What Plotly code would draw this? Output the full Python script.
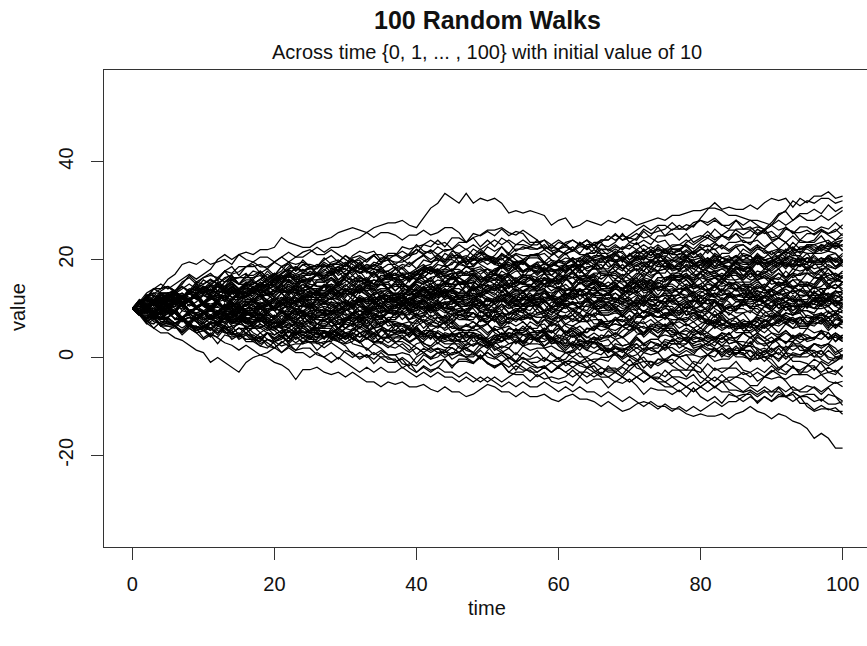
import plotly.graph_objects as go

# ---- data -------------------------------------------------------------
start_value = 10
n_steps = 100
x_ticks = [0, 20, 40, 60, 80, 100]
y_ticks = [-20, 0, 20, 40]

# step codes.  symbols: + +1, - -1, 0 zero, p +0.5, m -0.5, P +2, M -2
# digits 1..9 -> -1.8 ... +1.8 in steps of 0.45 (5 = no change)
step_size = {'+': 1.0, '-': -1.0, '0': 0.0, 'p': 0.5, 'm': -0.5, 'P': 2.0, 'M': -2.0,
             '1': -1.8, '2': -1.35, '3': -0.9, '4': -0.45, '5': 0.0,
             '6': 0.45, '7': 0.9, '8': 1.35, '9': 1.8}

# outer walks (top / bottom of the bundle), 100 steps each in groups of 10
edge_walk_steps = [
    "++++P+Ppm+ -pp-Ppm+0p P-mm0+pp+p pmm+pp0p-m PP+P--PM+m p-MpmpmmM+ pMp+mm+m+m -pppm+0pp0 p0m-0mm0mm -p-0p-+--p",
    "++-+0+++-+ +-++p++-0+ +-+0++-+0p +p+-+0m-+0 +-p+0-M+p+ 0p-m+--M+- -+-0+--+-+ ++-+-+0+-+ +-++0-+-++ P+P-+m+0-p",
    "++-+0+-+-+ +-+-+0++-+ -+-+0+-++- ++-+-+0+-+ +-+-0-+-+- ++-+-+0+-+ +-++-+0+-+ ++-+0-+-++ -+-0+-+--+ +-++-0+-++",
    "++P+-+++-+ +P+-+-m+0- ++-+p-0+-- --+-0-+--+ +-+-+0-+-+ --+-+--0+- +-+0+-+-+- -+--+0-+-+ +-+-0-+-+- -+-+--0+-+",
    "-M--0-m--m M+---P+pp+ ++-+0+-+-+ -+-+-0+-++ --+-+-0+-- ++-+0+-+-+ -+--+-0+-+ +-+-+0-+-+ --+-0+-+-- +-+-+0+-+-",
    "-+--0--+-M +--m-+--m- m-MP0p-mp- +--0-+mp-0 p-m+-0-p++ m-0-+-0p-m +p-0m-+--p +pm-+-0-mp m0p-+p+-m- +m-m-M+-M0",
    "-+--+0-+-- +-+-0+--+- -+--+-+0+- --+-0-+--+ -+-0+--+-+ --+-+--0+- -+-0-+--+- +-+--0-+-+ -+-0--+-+- +0-+M-p0m0",
    "--+-0-+-+- -+--+-+0-- +-+--0-+-- -+-+--0+-M +-+-0-+--+ --+-+-0+-- +-+-0-+--+ --+-0-+-+- ++-+0++-+0 0-+-0-p-0p",
    "-+--+-0+-+ --+-+--0+- -+-+--0+-- +-+-+0-+-+ --+-0-+--+ -+--+-0+-+ --+-+--0+- -+-0-+--+- +-+0--+-+- +-+-0+-++-",
    "-+--0-+--+ --+-+--0-- -+-0-+--+- --+-+-0+-- +-+-0-+-+- +-++0+-+-+ ++-+-+0+-+ +-+-+0-+-+ ++-+0+-+-+ -+-+-0+-+-",
    "-+-+0--+-+ --+-+-0+-- +-+--0-+-+ -+--+-+0-- --+-+0--+- -+-+--0+-+ --+-+-0+-- +-+-0-+--+ ++-+0+-+-+ +-+-0+-+-+",
    "++-+0+-++- +-++-+0++- ++-+-0+-++ +-++0-+-++ -+-+0+-+-+ +-+-+-0+-+ -+--+-0+-+ --+-+-0+-+ +-+-+0-+-- +-+0+-+-+-",
]

# walks inside the bundle, 100 digit steps each in groups of 10
band_walk_steps = [
    "7396158427 2481653972 8639678156 4723519448 6597283169 3254172835 9476816925 3412745831 7862594683 1625937428",
    "2538147253 6294781537 4183426592 7936185472 3824615329 8672953716 4591372642 6857391784 2735186439 7458269163",
    "8729563871 3654972816 9247358164 7869267358 1374825492 6587193684 2931754628 9638247917 4265318473 8179536827",
    "3718459236 7962845761 2634917325 8465293718 1357428394 6829756183 4724931652 9573682746 2183457293 7461598362",
    "8659728369 3791658427 9246817963 2513846239 6845713927 8692765387 4137259462 7386915826 1925346837 6248175938",
    "3174523816 8245391274 6937258176 2418325641 9368174582 4721934628 7534619238 8629574613 1382742594 6475983162",
    "7298365791 8649571368 2931745823 4165238472 9352641837 6817396584 7296483691 3872596472 1493625741 8753926847",
    "2741538294 6381752964 9728367158 3154283172 4619342753 8276549361 2583471623 7946185739 6318254924 1785936247",
    "2173542836 8415372491 3629518748 1442735149 7286391587 4318256392 2746138529 6134925471 8937526178 3215742813",
    "5739264183 2483517932 6971845693 8726397548 1532946317 3827549164 7634928716 4293613582 9368572947 2841735629",
    "7962485368 3759148672 2186394573 6928457319 4861973526 8317492354 9657861932 2749185346 8265937817 3194628524",
    "4725931624 8639157847 2347518329 6491735826 3824172956 9168374528 1372854293 7964581637 2638415749 8253946716",
    "8795639728 6487195632 9628374578 3174952382 7284691756 2941736254 8639752846 7196386429 4728563971 6329458178",
    "3514827326 2946135824 7839516487 4263192531 8372569473 1642938145 6925748362 3718462354 9265814738 2491537246",
    "7358296471 8692753864 2731945623 4816937582 9274153624 6837296518 3195472836 8462937561 2793184573 6459273817",
    "5793687248 1659384279 8762559364 3924175638 7618495723 2541863924 9863765182 6495287361 4273951847 8369257463",
    "2457132846 3814592372 7295684719 4631829532 8526471394 1379265483 9462715862 3724913654 6837295173 2945638147",
    "8274965317 3164824597 7956283764 6391752848 2439165378 4728319524 9683725619 7169485326 1385274936 8472569137",
    "7839256487 1648592736 9726835749 3814629527 6589371864 2937456138 8675294791 7936682586 4723915648 9618573927",
    "3724581632 8461953274 2394761534 6928357648 1742836415 9375284163 4682915737 2153748239 7492651846 3815429378",
    "8629573894 7386195726 2974658317 9738264579 3615947282 1473284523 6294517348 4381625921 8469357146 2745193863",
    "2631549237 4382751394 7296385718 9647586293 6184725973 3862957486 7491352648 8953627819 2473813564 6385927147",
    "7382541936 2941735624 8637159268 3729416532 1483572946 9264183573 6815749287 4623917425 8371654927 2195374631",
    "8572963847 3916458279 7238495618 2649173258 9736857194 6482395172 3874619563 7928356817 4613825924 8792653846",
    "3285619427 7491638572 1364823594 8279365183 6947582639 2731946253 4826153972 9364758164 1492537482 7638195247",
    "5372964817 8462597381 2739164532 6849725738 9273645816 3614852394 7956283748 8137495263 4826571392 6397184573",
    "7284956318 3714592632 2483715246 9362854719 1843629542 6479253817 4193623754 8265947386 2648135931 7391584692",
    "8375962847 1492635738 7284695173 3914725624 6839175862 9462578371 2793815648 4361952382 7946285719 3628549174",
    "4728593613 6319527482 8736294578 2947183254 7358264961 3619428537 9275681743 1864953726 8427391524 6938574629",
    "7953826847 8619357926 2843715649 9362857164 6748293587 3194627524 8279564817 4628315936 7395862748 2816539473",
    "3625841739 2841739254 7936285471 8264957386 4173624593 2947538146 6381945728 3495216372 9174653827 4729356183",
    "7486259361 3917528468 8264195327 6938572649 2743816532 9371684572 4629157836 7138495264 8627359178 3841652732",
    "8362594781 2473951384 6194725836 3826419527 9476285371 1384562934 7629385718 4937562183 6284371596 2748153947",
    "7938526479 2649175836 8376294571 3194652842 6827935618 9461857937 4728315629 7293584613 8365917846 2943725817",
    "3274581394 6381495273 2746153924 8639572648 1842735632 7294561837 4163825249 9375284616 3624951748 2937415826",
    "8362975418 2749563817 3184625924 7936185486 9247518363 4628395716 6491352847 3872956418 7139462532 8647591634",
    "8793562871 6947285397 2816345937 9375861748 7264915836 3481724593 6839572684 8173654976 4923815627 7382569472",
    "3827459136 2473916523 8619547263 7396285749 4621835427 9274653184 1738592647 3294561482 6837259478 2946157328",
    "7295836471 8639257846 2741936532 9362785481 6827594638 3916452847 8427395136 7938165729 4629315842 6385294763",
    "3184257394 2639415732 7482651938 4923715627 1364852493 8726395174 2845936147 6293745816 3472813592 9164572384",
    "8372659478 2941573846 7639185729 9284361573 3718495627 6947523818 4823915736 7194658273 2639547184 8726395462",
    "4728539163 7264958371 9637258469 2841736523 6392571847 3174824593 8469175284 7295638716 3827419524 9371584692",
    "8729563847 6397285619 7946358728 2618495736 9736285947 3827415618 4293615732 7481952647 1934725836 8265937481",
    "3827541936 7294183524 6938257194 2741635829 8362954717 4183723562 2916584738 9472351646 3628495137 7293564818",
    "6359278461 4827195637 9246518373 7618395748 2934715623 8462957369 3719425836 4283651392 9746258178 1638529474",
    "3172451836 2941735248 7381654923 1463825174 8276195382 4618352714 6392751847 2184537291 3729465183 8461527362",
    "8274593623 1638495726 4293715832 7361859478 2943627514 9185374627 3729415836 6847259163 4913825746 7362548194",
    "9364857268 2719548363 7496285717 8263945629 3841725936 6928375648 4739125827 9174653846 2381945731 7836592718",
    "3628459178 1492635724 8371954628 6947581936 2836415932 7294563817 4723815649 9365284713 6817395642 3946572837",
    "7839256481 8462957836 2741635928 9374561837 3182745642 6927583619 7263815946 4819327537 8394568173 2637549184",
    "7965382794 2841697358 6693728654 8317423956 7692851793 4253916452 8697257318 3759168472 9246144837 7839566628",
    "3148572632 7596284138 2417395263 8369751482 4724493561 6937826549 1832457326 9674815637 2548139256 7825936418",
    "5857296317 4629851374 7963825719 2354183692 8491735627 3782914562 6249578173 2437185697 4138256394 9726385486",
    "2541372853 3194652714 8365927847 7956386924 9178456396 6829375614 4713852492 3926481573 7529648163 2835749166",
    "2318457132 7492615383 1836524729 4271853613 8369275491 3714528364 6829374578 1427385291 3281546372 9173652841",
    "2451732846 3924175382 7183659473 4291534728 6837295164 1742936523 8371654927 3184723594 9265847162 2834751649",
    "7824936517 9361876453 2741392586 8257934618 4182375924 6978156329 3816472357 7492518369 2634857132 8719564823",
    "3825749163 7293185462 8639475826 2718539463 9746285917 6382754938 4913625729 7836592846 8194735627 3629457148",
    "9264857361 3724916523 6837195648 2491635814 7385294736 4618325927 8273651948 1364582732 9726485719 2837546193",
    "7385962748 6938175294 2749563871 8136492573 9726584936 3817495624 7462895361 8639257187 2943715842 6391857496",
    "4827351492 7391652847 2648135936 8739526471 3174824562 9462581793 1738495623 6297385482 4913652738 8372596471",
    "8639572847 7296358719 3827495628 9746185379 2483615932 7918564726 6392851748 4739562817 8264735936 2941857368",
    "3718594627 8247193563 6937582946 2846135739 7382956184 4621739532 9718456278 6493852716 3829415647 7165392848",
    "4623851742 7391645827 2184573294 6839275461 3718425923 9462583716 2837451946 8275936147 4392615328 6284753917",
    "7928456397 3816529473 8274956817 2634817539 9462758362 6839175248 4728591637 7319462583 8647593826 2936415738",
    "8362954717 2845739146 7294658371 3182745932 6937581649 4728395613 9365274826 1834925747 7481659328 3629547184",
    "8975638927 7294856178 3718549263 9637285946 6482953718 2931745632 8729568374 7369185749 9826457387 4619385726",
    "2483751946 3724916532 8361594727 4827315649 7639285461 1394625724 9275836478 3618459237 7492615384 2936574816",
    "8273956471 7946258738 2831749523 9465827396 3719485624 6382751947 4193625832 8729564719 3648529178 7294185326",
    "4729563871 8361945728 2483751392 7936285694 9274561837 3814625946 6492853714 8739562847 2648135739 4927538163",
    "7382564917 2846357194 9265384726 3718495638 8629457817 4937562846 7289365719 2643815932 9716583748 6472953827",
    "3728415932 8462593716 2934716523 7381954628 4293561832 6847295614 3629541738 9174285346 2738459163 8465293717",
    "7296538471 8739165827 4623951748 9372658164 2847359273 6918573649 3724819532 8461957826 1739548263 7284635918",
    "2837549164 7629385713 4913725846 8264953727 3172845932 9736582946 2648157329 6395728461 4721853947 7382594613",
    "7839562947 3916485792 7849256187 2638415927 9472856379 3729548164 8637195826 4923615738 7384956271 6928537482",
    "7482539163 2739465817 4183725632 9627584936 3814926524 6293851748 1748593623 8362745917 2491573842 7836295418",
    "4628593718 7389265847 2917356483 8472956178 3294615724 6185739264 9726485739 1839425647 7263854916 3942751837",
    "3174952846 2843715932 9362754817 4291638531 7938256493 2617435829 8475193646 3182642593 6394857182 4726539173",
    "9273845618 3817529462 7649385726 2931845637 6385274918 4271935823 8926573847 1738495632 7492651839 3627415948",
    "6837592749 3728165947 8463572916 2941738528 9716458376 4829536174 7382659481 8647395217 2936584173 7294635862",
    "2749561837 8316495273 7928456391 3617285946 4281935732 9637582649 1846357248 7295463817 3924815628 6473529184",
    "7395628471 2847195683 9638257469 4721836523 6284953718 3917564827 2473915638 8162759364 4739251846 7826539172",
    "3824751936 7392645138 2748539164 8639275813 4913625732 7284593617 3629485726 1483752394 9736185947 2847536193",
    "8279536817 4638295718 7926583946 2843915627 9361758462 6837259187 3719548263 8492635716 2934857164 7628395641",
    "6482593718 3174925642 8395726471 2746385916 7283194532 9647581639 4829315728 7164852936 3917564283 8273549164",
    "2837459163 8729563817 6394725836 4921853727 9265738479 3718245936 1493625742 7836495718 4629538273 8371954627",
    "7294853618 3624915837 8471592646 2938475613 6817532948 4729356217 9365827462 2183745934 8749265816 3617549283",
    "8729356178 4638591726 7392645819 2481753293 9647582637 6283954718 3916425846 8475916937 2734815928 7164953826",
]

title_text = "100 Random Walks"
subtitle_text = "Across time {0, 1, ... , 100} with initial value of 10"
x_label = "time"
y_label = "value"


def walk_values(code):
    vals = [float(start_value)]
    for ch in code.replace(" ", ""):
        if ch in step_size:
            vals.append(vals[-1] + step_size[ch])
    return vals[: n_steps + 1]


xs, ys = [], []
for code in edge_walk_steps + band_walk_steps:
    v = walk_values(code)
    xs.extend(list(range(len(v))) + [None])
    ys.extend(v + [None])

# ---- figure -----------------------------------------------------------
FONT = "Liberation Sans, Arial, Helvetica, sans-serif"
W, H = 871, 646          # plot box runs just past the right edge of the window
ML, MR, MT, MB = 104, 0, 70, 99
PW, PH = W - ML - MR, H - MT - MB


def px_x(sx):
    return (sx - ML) / PW


def px_y(sy):
    return (H - MB - sy) / PH


fig = go.Figure()
fig.add_trace(go.Scatter(
    x=xs, y=ys, mode="lines",
    line=dict(color="black", width=1.25),
    hoverinfo="skip", showlegend=False, connectgaps=False,
))

fig.update_layout(
    width=W, height=H,
    margin=dict(l=ML, r=MR, t=MT, b=MB, pad=0),
    paper_bgcolor="white", plot_bgcolor="white",
    font=dict(family=FONT, size=20, color="#111"),
    showlegend=False,
    hovermode=False,
    xaxis=dict(
        range=[-4, 104], tickmode="array", tickvals=x_ticks,
        ticktext=[str(v) for v in x_ticks],
        ticks="outside", ticklen=12, tickwidth=1, tickcolor="#333",
        showline=True, linecolor="#333", linewidth=1, mirror=True,
        showgrid=False, zeroline=False,
        tickfont=dict(family=FONT, size=20, color="#111"),
        ticklabelstandoff=7,
    ),
    yaxis=dict(
        range=[-38.7, 58.7], tickmode="array", tickvals=y_ticks,
        ticktext=[str(v) for v in y_ticks],
        ticks="outside", ticklen=12, tickwidth=1, tickcolor="#333",
        showline=True, linecolor="#333", linewidth=1, mirror=False,
        showgrid=False, zeroline=False, tickangle=-90,
        tickfont=dict(family=FONT, size=20, color="#111"),
        ticklabelstandoff=10,
    ),
    annotations=[
        dict(text="<b>" + title_text + "</b>", x=px_x(487), y=px_y(20),
             xref="paper", yref="paper", xanchor="center", yanchor="middle",
             showarrow=False, font=dict(family=FONT, size=25, color="#111")),
        dict(text=subtitle_text, x=px_x(487), y=px_y(52),
             xref="paper", yref="paper", xanchor="center", yanchor="middle",
             showarrow=False, font=dict(family=FONT, size=20, color="#111")),
        dict(text=x_label, x=px_x(487), y=px_y(608),
             xref="paper", yref="paper", xanchor="center", yanchor="middle",
             showarrow=False, font=dict(family=FONT, size=20, color="#111")),
        dict(text=y_label, x=px_x(18), y=px_y(307), textangle=-90,
             xref="paper", yref="paper", xanchor="center", yanchor="middle",
             showarrow=False, font=dict(family=FONT, size=20, color="#111")),
    ],
)

fig.write_html("out.html",
               config={"displayModeBar": False, "staticPlot": True},
               post_script="document.body.style.margin='0px';"
                           "document.body.style.overflow='hidden';")
